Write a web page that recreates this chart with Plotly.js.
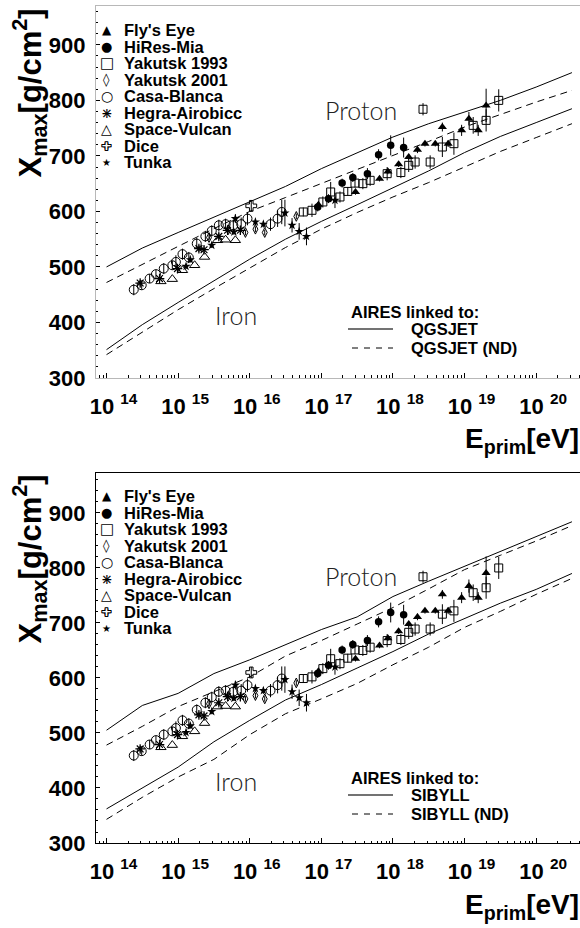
<!DOCTYPE html>
<html><head><meta charset="utf-8">
<script src="https://cdn.plot.ly/plotly-3.0.1.min.js"></script>
<style>html,body{margin:0;padding:0;overflow:hidden;background:#fff}#chart{width:590px;height:928px}</style>
</head><body><div id="chart"></div>
<script>
// ---------------- data (energies in eV, Xmax in g/cm^2) ----------------
const flysEyeE   = [9.1e16, 3.0e17, 6.5e17, 8.5e17, 1.2e18, 1.66e18, 2.2e18, 2.8e18, 3.9e18, 4.9e18, 5.9e18, 9.1e18, 1.15e19, 1.55e19, 2.0e19];
const flysEyeX   = [612, 635, 659, 672, 685, 698, 711, 722, 722, 752, 722, 746, 767, 746, 791];
const flysEyeErr = [5, 5, 5, 5, 5, 5, 6, 5, 5, 8, 6, 10, 12, 10, 30];

const hiresE   = [8.9e16, 1.26e17, 1.95e17, 2.75e17, 4.4e17, 6.3e17, 9.3e17, 1.41e18];
const hiresX   = [608, 623, 651, 661, 668, 702, 719, 715];
const hiresErr = [8, 8, 8, 8, 10, 10, 18, 18];

const yak93E   = [5.6e16, 7.4e16, 1.05e17, 1.35e17, 1.82e17, 2.34e17, 2.95e17, 3.8e17, 4.8e17, 8.3e17, 1.29e18, 1.66e18, 2.04e18, 2.63e18, 3.31e18, 4.9e18, 7.1e18, 1.32e19, 2.0e19, 3.0e19];
const yak93X   = [599, 602, 617, 635, 626, 636, 651, 650, 656, 668, 670, 683, 689, 784, 689, 716, 722, 755, 764, 800];
const yak93Err = [8, 12, 10, 18, 10, 8, 8, 10, 10, 12, 10, 12, 12, 11, 12, 18, 20, 15, 20, 20];

const yak01E   = [2.7e15, 5.0e15, 8.7e15, 1.2e16, 1.62e16, 4.47e16];
const yak01X   = [553, 567, 562, 568, 562, 591];
const yak01Err = [5, 5, 5, 5, 5, 5];

const casaE   = [2.4e14, 3.1e14, 4.0e14, 4.9e14, 6.3e14, 8.3e14, 9.3e14, 1.15e15, 1.41e15, 1.82e15, 2.4e15, 2.95e15, 3.7e15, 4.6e15, 5.9e15, 7.6e15, 9.3e15, 1.95e16, 2.45e16, 2.8e16];
const casaX   = [459, 467, 479, 487, 497, 503, 509, 523, 517, 542, 555, 565, 575, 577, 575, 577, 587, 577, 587, 599];
const casaErr = [10, 8, 8, 8, 10, 8, 12, 10, 10, 10, 10, 10, 10, 10, 10, 12, 12, 12, 15, 22];

const hegraE   = [2.95e14, 5.5e14, 9.8e14, 1.95e15, 2.3e15, 3.7e15, 4.9e15, 7.4e15];
const hegraX   = [471, 479, 497, 533, 531, 555, 566, 566];
const hegraErr = [6, 6, 6, 6, 6, 6, 8, 8];

const vulcanE = [5.75e14, 8.3e14, 1.15e15, 1.7e15, 2.34e15, 3.55e15, 4.6e15, 6.3e15];
const vulcanX = [474, 478, 494, 503, 518, 548, 549, 548];

const diceE   = [1.05e16];
const diceX   = [610];
const diceErr = [10];

const tunkaE   = [1.29e15, 1.48e15, 2.95e15, 6.0e15, 6.3e15, 1.2e16, 1.55e16, 3.1e16, 3.9e16, 4.9e16, 6.2e16, 1.55e17];
const tunkaX   = [501, 513, 539, 563, 587, 581, 577, 597, 575, 564, 555, 620];
const tunkaErr = [5, 5, 5, 5, 8, 6, 6, 24, 13, 15, 16, 14];

// model curves (AIRES)
const curveE = [1e14, 3.16e14, 1e15, 3.16e15, 1e16, 3.16e16, 1e17, 3.16e17, 1e18, 3.16e18, 1e19, 3.16e19, 1e20, 3.16e20];
const protonQGSJET   = [500, 534, 562, 590, 618, 645, 677, 705, 734, 758, 779, 800, 824, 850];
const protonQGSJETnd = [472, 505, 537, 569, 600, 625, 650, 675, 701, 726, 752, 775, 797, 818];
const ironQGSJET     = [351, 396, 436, 475, 514, 550, 582, 612, 642, 673, 706, 735, 760, 785];
const ironQGSJETnd   = [342, 383, 423, 461, 498, 535, 568, 598, 626, 652, 680, 708, 733, 758];
const protonSIBYLL   = [505, 550, 572, 608, 633, 660, 688, 711, 748, 776, 803, 831, 858, 884];
const protonSIBYLLnd = [478, 512, 548, 575, 602, 640, 668, 698, 728, 762, 797, 823, 849, 877];
const ironSIBYLL     = [362, 400, 438, 484, 523, 560, 588, 618, 648, 680, 708, 736, 761, 790];
const ironSIBYLLnd   = [343, 383, 420, 452, 497, 535, 562, 590, 624, 656, 692, 721, 752, 781];

const expNames  = ["Fly's Eye", "HiRes-Mia", "Yakutsk 1993", "Yakutsk 2001", "Casa-Blanca", "Hegra-Airobicc", "Space-Vulcan", "Dice", "Tunka"];
// legend swatches: one or more glyphs per entry
const legendGlyphs = [["\u25B2"], ["\u25CF"], ["\u25A1"], ["\u25CA"], ["\u25CB"], ["+", "\u00D7"], ["\u25B3"], ["+"], ["\u2605"]];
const glyphSizes = [12, 13, 15, 13, 14, 14, 14, 13, 10];

const tickE = [1e14, 1e15, 1e16, 1e17, 1e18, 1e19, 1e20];
const tickLabels = ["14", "15", "16", "17", "18", "19", "20"].map(s => "10\u00a0<sup>" + s + "</sup>");
const yTicks = [300, 400, 500, 600, 700, 800, 900];

// ---------------- layout helpers ----------------
const L = 96, PW = 490, PB = 843, PH = 837;
const px = v => (v - L) / PW;
const py = v => (PB - v) / PH;
const BOLD = {family: "Liberation Sans, Arial, sans-serif", color: "#000", weight: "bold"};
const OUTLINE = "1px 0 0 #000, -1px 0 0 #000, 0 1px 0 #000, 0 -1px 0 #000, 1px 1px 0 #000, -1px -1px 0 #000, 1px -1px 0 #000, -1px 1px 0 #000";

const minorE = [];
for (let d = 13; d <= 20; d++) for (let k = 2; k <= 9; k++) minorE.push(k * Math.pow(10, d));

const experiments = [
  {e: flysEyeE, x: flysEyeX, err: flysEyeErr, sym: "triangle-up", size: 8, lw: 0},
  {e: hiresE, x: hiresX, err: hiresErr, sym: "circle", size: 7.5, lw: 0},
  {e: yak93E, x: yak93X, err: yak93Err, sym: "square-open", size: 8, lw: 1},
  {e: yak01E, x: yak01X, err: yak01Err, sym: "diamond-tall-open", size: 7, lw: 1},
  {e: casaE, x: casaX, err: casaErr, sym: "circle-open", size: 9, lw: 1},
  {e: hegraE, x: hegraX, err: hegraErr, sym: "asterisk-open", size: 8, lw: 1.2},
  {e: vulcanE, x: vulcanX, err: null, sym: "triangle-up-open", size: 9, lw: 1},
  {e: diceE, x: diceX, err: diceErr, sym: "cross-open", size: 9, lw: 1},
  {e: tunkaE, x: tunkaX, err: tunkaErr, sym: "star", size: 7, lw: 0}
];

const panels = [
  {xa: "x", ya: "y", dy: 0, model: "QGSJET",
   curves: [protonQGSJET, protonQGSJETnd, ironQGSJET, ironQGSJETnd]},
  {xa: "x2", ya: "y2", dy: 466, model: "SIBYLL",
   curves: [protonSIBYLL, protonSIBYLLnd, ironSIBYLL, ironSIBYLLnd]}
];

const traces = [], annotations = [], shapes = [];
panels.forEach((p) => {
  p.curves.forEach((c, ci) => {
    traces.push({x: curveE, y: c, xaxis: p.xa, yaxis: p.ya, mode: "lines", showlegend: false,
      line: {color: "#000", width: 1, dash: (ci % 2 === 1) ? "7px,5px" : "solid"}, hoverinfo: "skip"});
  });
  experiments.forEach((ex, ei) => {
    const t = {x: ex.e, y: ex.x, xaxis: p.xa, yaxis: p.ya, mode: "markers", name: expNames[ei], showlegend: false,
      marker: {symbol: ex.sym, size: ex.size, color: "#000", line: {color: "#000", width: ex.lw}}};
    if (ex.err) t.error_y = {type: "data", array: ex.err, visible: true, color: "#000", thickness: 1, width: 0};
    traces.push(t);
  });
  const d = p.dy;
  // experiment legend
  expNames.forEach((n, i) => {
    const yy = py(30 + d + i * 16.55);
    legendGlyphs[i].forEach(g => {
      const f = {family: "DejaVu Sans, sans-serif", size: glyphSizes[i], color: "#000"};
      if (i === 7) { f.color = "#fff"; f.weight = "bold"; f.shadow = OUTLINE; }
      annotations.push({xref: "paper", yref: "paper", x: px(106.5), y: yy, xanchor: "center", yanchor: "middle",
        text: g, showarrow: false, font: f});
    });
    annotations.push({xref: "paper", yref: "paper", x: px(122), y: yy, xanchor: "left", yanchor: "middle",
      text: n, showarrow: false, font: Object.assign({}, BOLD, {size: 16.5})});
  });
  // model legend
  annotations.push({xref: "paper", yref: "paper", x: px(349), y: py(312 + d), xanchor: "left", yanchor: "middle",
    text: "AIRES linked to:", showarrow: false, font: Object.assign({}, BOLD, {size: 16.5})});
  annotations.push({xref: "paper", yref: "paper", x: px(409), y: py(329 + d), xanchor: "left", yanchor: "middle",
    text: p.model, showarrow: false, font: Object.assign({}, BOLD, {size: 16.5})});
  annotations.push({xref: "paper", yref: "paper", x: px(409), y: py(348 + d), xanchor: "left", yanchor: "middle",
    text: p.model + " (ND)", showarrow: false, font: Object.assign({}, BOLD, {size: 16.5})});
  shapes.push({type: "line", xref: "paper", yref: "paper", x0: px(348), x1: px(393), y0: py(329 + d), y1: py(329 + d),
    line: {color: "#444", width: 1.5}});
  shapes.push({type: "line", xref: "paper", yref: "paper", x0: px(352), x1: px(393), y0: py(348 + d), y1: py(348 + d),
    line: {color: "#000", width: 1, dash: "6px,6px"}});
  // Proton / Iron
  annotations.push({xref: "paper", yref: "paper", x: px(361), y: py(110 + d), xanchor: "center", yanchor: "middle",
    text: "Proton", showarrow: false, font: {family: "Lato, DejaVu Sans, sans-serif", size: 25, color: "#222", weight: 300}});
  annotations.push({xref: "paper", yref: "paper", x: px(236), y: py(315 + d), xanchor: "center", yanchor: "middle",
    text: "Iron", showarrow: false, font: {family: "Lato, DejaVu Sans, sans-serif", size: 25, color: "#222", weight: 300}});
  // axis titles
  annotations.push({xref: "paper", yref: "paper", x: px(30), y: py(7 + d), xanchor: "center", yanchor: "top",
    textangle: -90, text: "X<sub>max</sub>[g/cm<sup>2</sup>]", showarrow: false, font: Object.assign({}, BOLD, {size: 31})});
  annotations.push({xref: "paper", yref: "paper", x: px(463), y: py(440 + d), xanchor: "left", yanchor: "middle",
    text: "E<sub>prim</sub>[eV]", showarrow: false, font: Object.assign({}, BOLD, {size: 28})});
});

function xAxis(frame, anchor) {
  return {type: "log", range: [13.853, 20.696], domain: [0, 1], anchor: anchor,
    showline: true, mirror: true, linecolor: frame, linewidth: 1.2, showgrid: false, zeroline: false,
    ticks: "inside", ticklen: 5, tickcolor: "#000", tickwidth: 1,
    tickmode: "array", tickvals: tickE, ticktext: tickLabels,
    tickfont: Object.assign({}, BOLD, {size: 22}), ticklabelstandoff: 8, ticklabelshift: 7,
    minor: {tickmode: "array", tickvals: minorE, ticks: "inside", ticklen: 2.5, tickcolor: "#000", tickwidth: 1, showgrid: false}};
}
function yAxis(frame, anchor, dom, top) {
  return {range: [300, top], domain: dom, anchor: anchor,
    showline: true, mirror: true, linecolor: frame, linewidth: 1.2, showgrid: false, zeroline: false,
    ticks: "inside", ticklen: 4, tickcolor: "#000", tickwidth: 1,
    tickmode: "array", tickvals: yTicks,
    tickfont: Object.assign({}, BOLD, {size: 22}), ticklabelstandoff: 5,
    minor: {dtick: 20, tick0: 300, ticks: "inside", ticklen: 2, tickcolor: "#000", tickwidth: 1, showgrid: false}};
}

const layout = {
  width: 590, height: 928,
  margin: {l: L, r: 4, t: 6, b: 85},
  paper_bgcolor: "#fff", plot_bgcolor: "#fff",
  showlegend: false,
  xaxis: xAxis("#b8b8b8", "y"),
  yaxis: yAxis("#b8b8b8", "x", [0.5556, 1], 970),
  xaxis2: xAxis("#000", "y2"),
  yaxis2: yAxis("#000", "x2", [0, 0.4421], 972.7),
  annotations: annotations,
  shapes: shapes
};

Plotly.newPlot("chart", traces, layout, {displayModeBar: false, staticPlot: true});
</script></body></html>
